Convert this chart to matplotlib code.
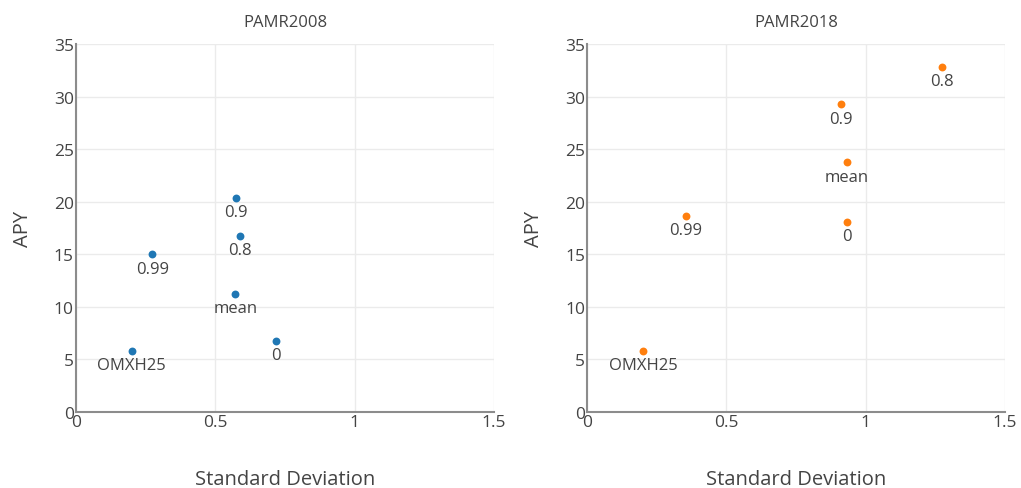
import matplotlib.pyplot as plt

# values
labels = ['OMXH25', '0.99', '0.9', '0.8', 'mean', '0']
sd_2008 = [0.20, 0.274, 0.574, 0.589, 0.572, 0.719]
apy_2008 = [5.8, 15.0, 20.35, 16.75, 11.2, 6.75]
sd_2018 = [0.202, 0.355, 0.910, 1.275, 0.933, 0.933]
apy_2018 = [5.8, 18.65, 29.25, 32.8, 23.75, 18.05]

titles = ['PAMR2008', 'PAMR2018']
colors = ['#1f77b4', '#ff7f0e']
x_ticks = [0, 0.5, 1, 1.5]
x_ticklabels = ['0', '0.5', '1', '1.5']
y_ticks = [0, 5, 10, 15, 20, 25, 30, 35]

plt.rcParams['font.family'] = ['Open Sans', 'DejaVu Sans']
txt_color = '#444444'

fig = plt.figure(figsize=(10.21, 4.89), dpi=100)
boxes = [[0.0744, 0.1554, 0.4094, 0.7526], [0.575, 0.1554, 0.4094, 0.7526]]
series = [(sd_2008, apy_2008), (sd_2018, apy_2018)]

for i in range(2):
    ax = fig.add_axes(boxes[i])
    xs, ys = series[i]
    ax.scatter(xs, ys, s=32, color=colors[i], zorder=3, linewidths=0)
    for x, y, lab in zip(xs, ys, labels):
        ax.annotate(lab, (x, y), xytext=(0, -4.5), textcoords='offset points',
                    ha='center', va='top', fontsize=12, color=txt_color)
    ax.set_xlim(0, 1.5)
    ax.set_ylim(0, 35)
    ax.set_xticks(x_ticks)
    ax.set_xticklabels(x_ticklabels)
    ax.set_yticks(y_ticks)
    ax.grid(True, color='#ebebeb', linewidth=1)
    ax.set_axisbelow(True)
    for s in ['top', 'right']:
        ax.spines[s].set_visible(False)
    for s in ['left', 'bottom']:
        ax.spines[s].set_color('#8c8c8c')
        ax.spines[s].set_linewidth(1.5)
    ax.tick_params(length=0, pad=1.5, labelsize=12.5, colors=txt_color)
    ax.set_title(titles[i], fontsize=12, color=txt_color, pad=13)
    ax.set_xlabel('Standard Deviation', fontsize=14.5, color=txt_color, labelpad=28)
    ax.set_ylabel('APY', fontsize=14.5, color=txt_color, labelpad=15)

fig.savefig('out.png', dpi=100)
